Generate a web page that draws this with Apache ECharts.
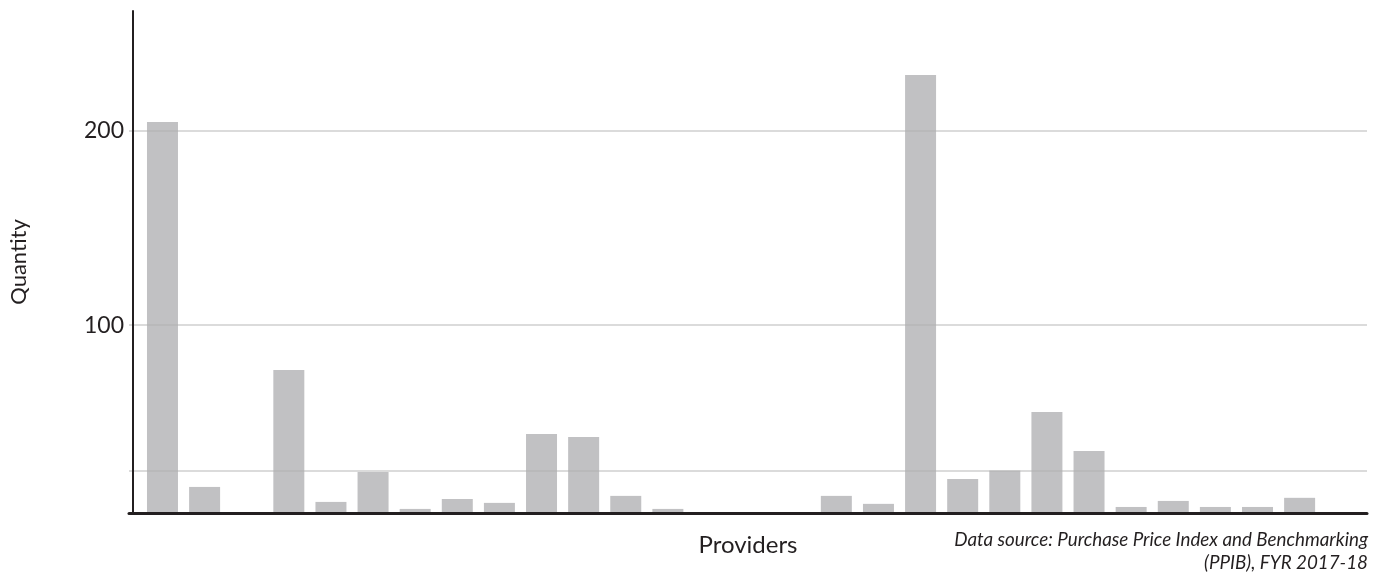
<!DOCTYPE html>
<html>
<head>
<meta charset="utf-8">
<script src="https://cdn.jsdelivr.net/npm/echarts@6/dist/echarts.min.js"></script>
<style>
  html, body { margin: 0; padding: 0; background: #ffffff; }
  #chart { width: 1386px; height: 577px; }
</style>
</head>
<body>
<div id="chart"></div>
<script>
// Quantity per provider (provider index 0..27, left to right)
const providerIndex = [0, 1, 2, 3, 4, 5, 6, 7, 8, 9, 10, 11, 12, 13, 14, 15, 16, 17, 18, 19, 20, 21, 22, 23, 24, 25, 26, 27];
const quantities = [204.5, 16.9, 0, 77.0, 9.2, 24.6, 5.6, 10.7, 8.7, 44.1, 42.6, 12.3, 5.6, 0, 0, 0, 12.3, 8.2, 228.6, 21.0, 25.3, 55.4, 35.4, 6.6, 9.7, 6.6, 6.6, 11.3];
const gridValues = [25, 100, 200];
const labelValues = [100, 200];
const yLabel = 'Quantity';
const xLabel = 'Providers';
const sourceNote = 'Data source: Purchase Price Index and Benchmarking\n(PPIB), FYR 2017-18';

const barData = providerIndex.map((p, i) => [p, quantities[i]]);

const chart = echarts.init(document.getElementById('chart'), null, { renderer: 'canvas' });
chart.setOption({
  animation: false,
  backgroundColor: '#ffffff',
  textStyle: { fontFamily: 'Lato' },
  grid: { left: 129, right: 19, top: 11, bottom: 64, containLabel: false },
  xAxis: {
    type: 'value',
    min: -0.795,
    max: 28.6,
    z: 5,
    axisLine: { show: true, onZero: false, lineStyle: { color: '#231f20', width: 3 } },
    axisTick: { show: false },
    axisLabel: { show: false },
    splitLine: { show: false },
    name: xLabel,
    nameLocation: 'middle',
    nameGap: 20,
    nameTextStyle: { fontFamily: 'Lato', fontSize: 24, color: '#231f20' }
  },
  yAxis: {
    type: 'value',
    min: 3.5,
    max: 261.5,
    offset: -4,
    z: 5,
    axisLine: { show: true, onZero: false, lineStyle: { color: '#231f20', width: 2 } },
    axisTick: { show: false },
    axisLabel: {
      show: true,
      customValues: labelValues,
      margin: 9,
      fontFamily: 'Lato',
      fontSize: 23,
      color: '#231f20'
    },
    splitLine: { show: false },
    name: yLabel,
    nameLocation: 'middle',
    nameRotate: 90,
    nameGap: 103,
    nameTextStyle: { fontFamily: 'Lato', fontSize: 22, color: '#231f20' }
  },
  series: [{
    type: 'bar',
    data: barData,
    barWidth: 31,
    clip: true,
    itemStyle: { color: '#c1c1c3' },
    markLine: {
      silent: true,
      symbol: ['none', 'none'],
      label: { show: false },
      lineStyle: { type: 'solid', color: 'rgba(175,175,175,0.6)', width: 1.5 },
      data: gridValues.map(v => ({ yAxis: v }))
    }
  }],
  graphic: [{
    type: 'text',
    right: 18,
    top: 528,
    style: {
      text: sourceNote,
      font: 'italic 18.8px Lato',
      fill: '#231f20',
      textAlign: 'right',
      lineHeight: 23
    }
  }]
});
</script>
</body>
</html>
